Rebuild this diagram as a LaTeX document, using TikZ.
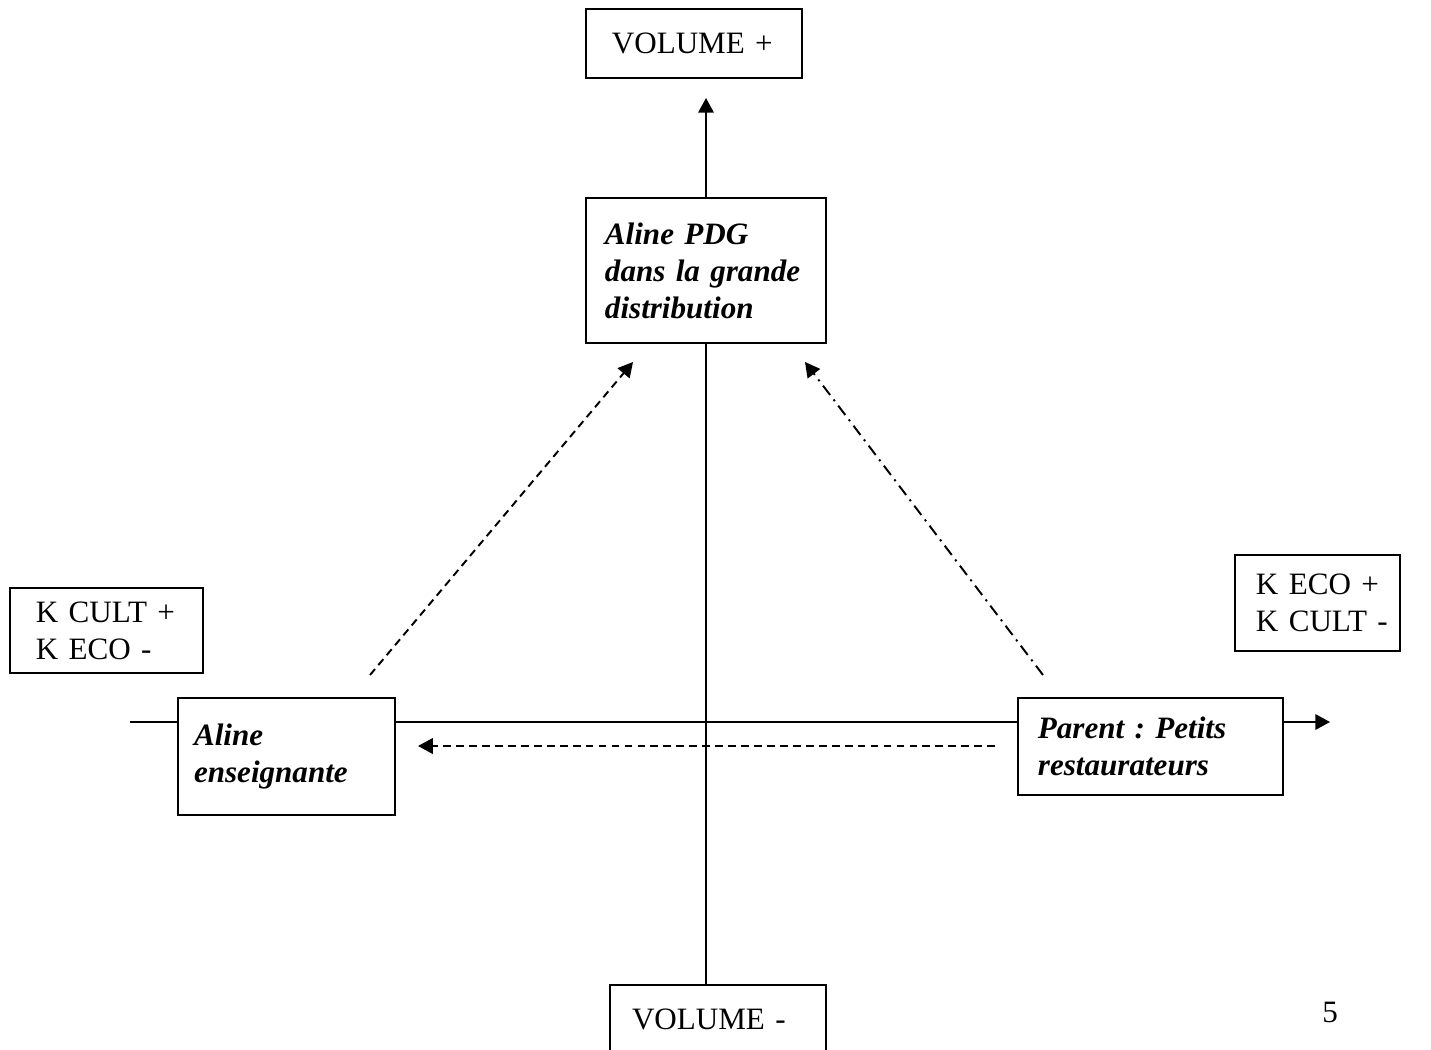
\documentclass[tikz,border=0pt]{standalone}
\usepackage{fontspec}
\setmainfont{Liberation Serif}
\usetikzlibrary{arrows.meta}
\tikzset{
  box/.style={draw,line width=0.75pt,align=left,inner ysep=0pt,
    font=\fontsize{12}{14.3}\selectfont\frenchspacing},
  nom/.style={box,font=\fontsize{12}{14.3}\selectfont\frenchspacing\bfseries\itshape},
  axis/.style={line width=0.75pt},
  tip/.style={-{Triangle[length=2mm,width=2.1mm]}},
  move/.style={axis,tip,dash pattern=on 3pt off 2pt},
  movedot/.style={axis,tip,dash pattern=on 4.5pt off 2.2pt on 0.8pt off 2.2pt},
}
\begin{document}
\begin{tikzpicture}[x=0.386pt,y=-0.386pt]
  \useasboundingbox (0,0) rectangle (1431,1049);
  % poles of the space
  \node[box,text width=63.4pt,inner xsep=10pt,minimum height=26.6pt] (vplus) at (694,43.5) {\mbox{VOLUME +}};
  \node[box,text width=66.4pt,inner xsep=8.5pt,minimum height=26.6pt] (vmoins) at (718,1019.5) {\mbox{VOLUME -}};
  \node[box,text width=54.5pt,inner xsep=10pt,minimum height=32.8pt] (kcult) at (106.5,630.5) {\mbox{K CULT +}\\\mbox{K ECO -}};
  \node[box,text width=47.5pt,inner xsep=8.1pt,minimum height=37.1pt] (keco) at (1317.5,603) {\mbox{K ECO +}\\\mbox{K CULT -}};
  % positions
  \node[nom,text width=78pt,inner xsep=7.3pt,minimum height=56pt] (pdg) at (706,270.5) {Aline PDG\\dans la grande\\distribution};
  \node[nom,text width=71.4pt,inner xsep=6.2pt,minimum height=45.2pt] (aline) at (286.5,756.5) {Aline\\enseignante};
  \node[nom,text width=86.9pt,inner xsep=7.7pt,minimum height=37.4pt] (parent) at (1150.5,746.5) {Parent : Petits\\restaurateurs};
  \node[font=\fontsize{12}{14.3}\selectfont] (page) at (1330,1012) {5};
  % axes
  \coordinate (o) at (706,722);
  \coordinate (hl) at (130,722);
  \coordinate (hr) at (1330,722);
  \coordinate (vtip) at (706,98);
  \draw[axis,tip] (pdg.north) -- (vtip);
  \draw[axis] (pdg.south) -- (pdg.south |- vmoins.north);
  \draw[axis] (hl) -- (hl -| aline.west);
  \draw[axis] (o -| aline.east) -- (o -| parent.west);
  \draw[axis,tip] (o -| parent.east) -- (hr);
  % trajectories
  \coordinate (a0) at (370,675);
  \coordinate (a1) at (633,362);
  \coordinate (p0) at (1043,675);
  \coordinate (p1) at (805,362);
  \coordinate (h0) at (995,746);
  \coordinate (h1) at (418,746);
  \draw[move] (a0) -- (a1);
  \draw[movedot] (p0) -- (p1);
  \draw[move] (h0) -- (h1);
\end{tikzpicture}
\end{document}
